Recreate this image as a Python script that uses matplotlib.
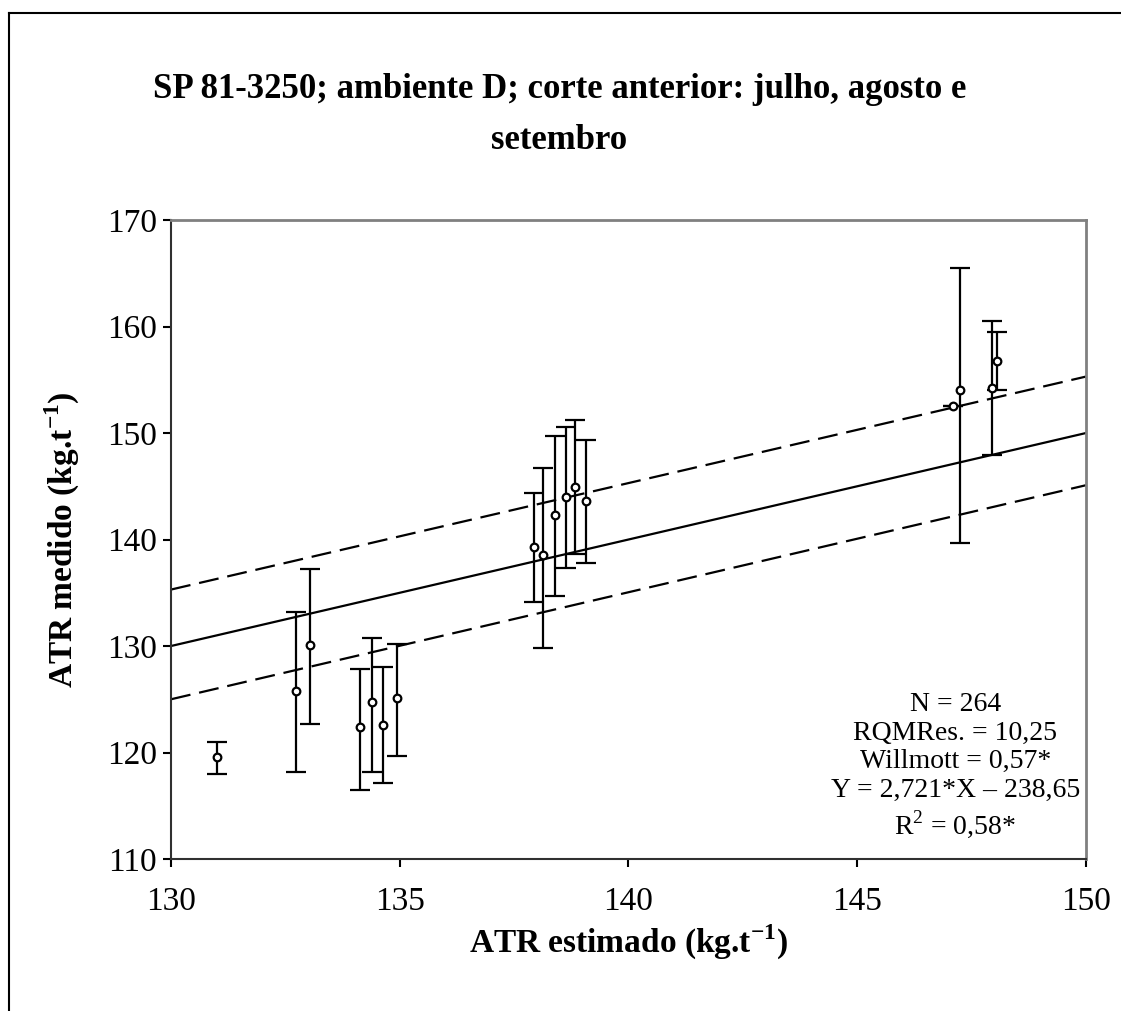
import matplotlib
matplotlib.use("Agg")
import matplotlib.pyplot as plt
import numpy as np
from matplotlib.lines import Line2D

plt.rcParams['font.family'] = ['Liberation Serif', 'DejaVu Serif']
plt.rcParams['mathtext.fontset'] = 'custom'
plt.rcParams['mathtext.rm'] = 'Liberation Serif'
plt.rcParams['mathtext.bf'] = 'Liberation Serif:bold'

# dados
atr_est = [131.0, 132.73, 133.04, 134.13, 134.39, 134.63, 134.94,
           137.93, 138.13, 138.39, 138.63, 138.83, 139.07,
           147.1, 147.25, 147.95, 148.05]
atr_med = [119.6, 125.8, 130.1, 122.4, 124.7, 122.6, 125.1,
           139.3, 138.5, 142.3, 144.0, 144.9, 143.6,
           152.5, 154.0, 154.2, 156.8]
err_sup = [121.0, 133.2, 137.2, 127.8, 130.8, 128.0, 130.2,
           144.4, 146.7, 149.7, 150.6, 151.2, 149.3,
           152.5, 165.5, 160.5, 159.5]
err_inf = [118.0, 118.2, 122.7, 116.5, 118.2, 117.1, 119.7,
           134.1, 129.8, 134.7, 137.3, 138.6, 137.8,
           152.5, 139.7, 147.9, 154.0]

linha_x = [130, 150]
linha_y = [130.0, 150.0]
ic_sup = [135.3, 155.3]
ic_inf = [125.0, 145.1]

texto = "N = 264\nRQMRes. = 10,25\nWillmott = 0,57*\nY = 2,721*X \u2013 238,65\nR$^2$ = 0,58*"

fig = plt.figure(figsize=(11.21, 10.11), dpi=100)
ax = fig.add_axes([0.1525, 0.1503, 0.8163, 0.6321])

# moldura externa
fig.add_artist(Line2D([9/1121, 9/1121], [0, 1 - 13/1011], transform=fig.transFigure, color='black', lw=1.5))
fig.add_artist(Line2D([9/1121, 1], [1 - 13/1011, 1 - 13/1011], transform=fig.transFigure, color='black', lw=1.5))

y = np.array(atr_med)
yerr = [y - np.array(err_inf), np.array(err_sup) - y]
ax.errorbar(atr_est, atr_med, yerr=yerr, fmt='o', ms=5.5, mfc='white', mec='black', mew=1.6,
            ecolor='black', elinewidth=1.6, capsize=7, capthick=1.6, color='black', zorder=3)

ax.plot(linha_x, linha_y, color='black', lw=1.6)
ax.plot(linha_x, ic_sup, color='black', lw=1.6, dashes=(9, 4))
ax.plot(linha_x, ic_inf, color='black', lw=1.6, dashes=(9, 4))

ax.set_xlim(130, 150)
ax.set_ylim(110, 170)
ax.set_xticks([130, 135, 140, 145, 150])
ax.set_yticks([110, 120, 130, 140, 150, 160, 170])
ax.tick_params(axis='both', labelsize=24, length=6, width=1.5, direction='out')
ax.tick_params(axis='x', pad=14)
ax.tick_params(axis='y', pad=4)

for s in ['top', 'right']:
    ax.spines[s].set_color('#808080')
    ax.spines[s].set_linewidth(2)
for s in ['left', 'bottom']:
    ax.spines[s].set_color('#303030')
    ax.spines[s].set_linewidth(1.5)

ax.set_xlabel(r'ATR estimado (kg.t$^{\mathbf{-1}}$)', fontsize=24, fontweight='bold', labelpad=4)
ax.set_ylabel(r'ATR medido (kg.t$^{\mathbf{-1}}$)', fontsize=24, fontweight='bold', labelpad=18)

fig.text(0.499, 1 - 115/1011, 'SP 81-3250; ambiente D; corte anterior: julho, agosto e\nsetembro',
         ha='center', va='center', fontsize=25, fontweight='bold', linespacing=1.75)

ax.text(0.857, 0.262, texto, transform=ax.transAxes, ha='center', va='top', fontsize=20,
        linespacing=1.2, multialignment='center')

fig.savefig('out.png', dpi=100)
